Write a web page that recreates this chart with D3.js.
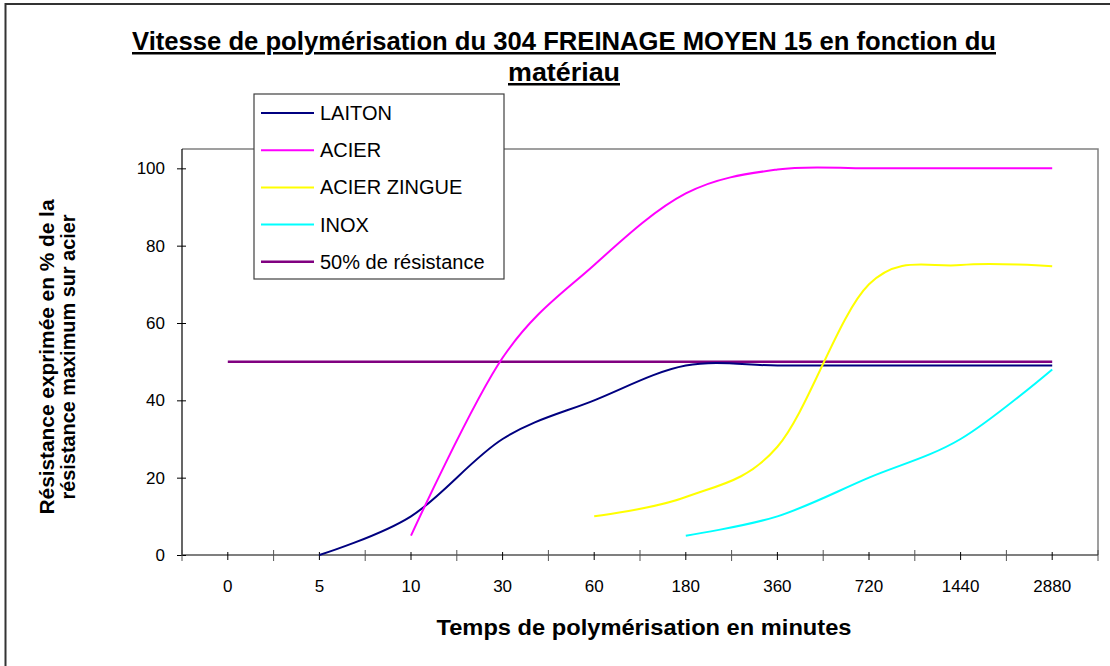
<!DOCTYPE html>
<html>
<head>
<meta charset="utf-8">
<script src="https://cdn.jsdelivr.net/npm/d3@7"></script>
<style>
  html, body { margin: 0; padding: 0; background: #fff; }
  svg { display: block; font-family: Arial, "Liberation Sans", sans-serif; }
</style>
</head>
<body>
<svg id="chart" width="1110" height="666"></svg>
<script>
// ---- data ----
const categories = ["0", "5", "10", "30", "60", "180", "360", "720", "1440", "2880"];
const laiton      = [null, 0, 10, 30, 40, 49, 49, 49, 49, 49];
const acier       = [null, null, 5, 51, 75, 93.5, 99.7, 100, 100, 100];
const acierZingue = [null, null, null, null, 10, 15, 28, 70, 75, 74.7];
const inox        = [null, null, null, null, null, 5, 10, 20, 30, 48];
const seuil       = [50, 50, 50, 50, 50, 50, 50, 50, 50, 50];
const yTicks = [0, 20, 40, 60, 80, 100];

const seriesNames  = ["LAITON", "ACIER", "ACIER ZINGUE", "INOX", "50% de résistance"];
const seriesValues = [laiton, acier, acierZingue, inox, seuil];
const seriesColors = ["#000080", "#FF00FF", "#FFFF00", "#00FFFF", "#800080"];

const title1 = "Vitesse de polymérisation du 304 FREINAGE MOYEN 15 en fonction du";
const title2 = "matériau";
const xTitle = "Temps de polymérisation en minutes";
const yTitle1 = "Résistance exprimée en % de la";
const yTitle2 = "résistance maximum sur acier";

// ---- layout ----
const svg = d3.select("#chart");
const plot = { left: 182, right: 1098, top: 149, bottom: 555 };

const x = d3.scaleBand().domain(categories).range([plot.left, plot.right]).paddingInner(0).paddingOuter(0);
const y = d3.scaleLinear().domain([0, 105]).range([plot.bottom, plot.top]);
const cx = c => x(c) + x.bandwidth() / 2;

// chart border
svg.append("rect").attr("x", 5.5).attr("y", 4).attr("width", 1120).attr("height", 680)
  .attr("fill", "none").attr("stroke", "#333").attr("stroke-width", 2);

// plot border (top/right in gray)
svg.append("path")
  .attr("d", `M${plot.left},${plot.top}H${plot.right}V${plot.bottom}`)
  .attr("fill", "none").attr("stroke", "#808080").attr("stroke-width", 1.5);

// title
const tg = svg.append("g").attr("font-weight", "bold").attr("font-size", 25).attr("fill", "#000");
[[title1, 50, 864], [title2, 81, 112]].forEach(([t, yy, w]) => {
  tg.append("text").attr("x", 564).attr("y", yy).attr("text-anchor", "middle")
    .attr("textLength", w).attr("lengthAdjust", "spacingAndGlyphs")
    .attr("text-decoration", "underline").text(t);
});

// y axis
const yAxis = d3.axisLeft(y).tickValues(yTicks).tickSize(6).tickPadding(5);
const yg = svg.append("g").attr("transform", `translate(${plot.left},0)`).call(yAxis);
yg.select(".domain").attr("d", `M0,${plot.bottom}V${plot.top}`).attr("stroke", "#000").attr("stroke-width", 1.2);
yg.selectAll(".tick line").attr("x1", 4).attr("x2", -5).attr("stroke", "#000");
yg.selectAll(".tick text").attr("font-size", 17).attr("fill", "#000").attr("x", -17)
  .attr("font-family", "Arial, 'Liberation Sans', sans-serif");

// x axis: band boundaries (major) + centers (minor)
const xg = svg.append("g");
xg.append("line").attr("x1", plot.left).attr("x2", plot.right).attr("y1", plot.bottom).attr("y2", plot.bottom)
  .attr("stroke", "#000").attr("stroke-width", 1.2);
const bounds = categories.map(c => x(c)).concat([x(categories[categories.length - 1]) + x.bandwidth()]);
xg.selectAll("line.maj").data(bounds).join("line").attr("class", "maj")
  .attr("x1", d => d).attr("x2", d => d).attr("y1", plot.bottom - 5).attr("y2", plot.bottom + 6)
  .attr("stroke", "#555").attr("stroke-width", 1);
xg.selectAll("line.min").data(categories).join("line").attr("class", "min")
  .attr("x1", d => cx(d)).attr("x2", d => cx(d)).attr("y1", plot.bottom - 3).attr("y2", plot.bottom + 5)
  .attr("stroke", "#000").attr("stroke-width", 1);
xg.selectAll("text").data(categories).join("text")
  .attr("x", d => cx(d)).attr("y", 592).attr("text-anchor", "middle")
  .attr("font-size", 17).attr("fill", "#000").text(d => d);

// axis titles
svg.append("text").attr("x", 644).attr("y", 635).attr("text-anchor", "middle")
  .attr("font-weight", "bold").attr("font-size", 22)
  .attr("textLength", 415).attr("lengthAdjust", "spacingAndGlyphs").text(xTitle);
[[yTitle1, 54, 315], [yTitle2, 75, 285]].forEach(([t, xx, w]) => {
  svg.append("text").attr("transform", `translate(${xx},357) rotate(-90)`)
    .attr("text-anchor", "middle").attr("font-weight", "bold").attr("font-size", 20)
    .attr("textLength", w).attr("lengthAdjust", "spacingAndGlyphs").text(t);
});

// lines
const line = d3.line()
  .defined(d => d.v !== null)
  .x(d => cx(d.c))
  .y(d => y(d.v))
  .curve(d3.curveCardinal.tension(0));

const order = [4, 0, 1, 2, 3];
order.forEach(i => {
  const data = categories.map((c, k) => ({ c, v: seriesValues[i][k] }));
  svg.append("path").datum(data)
    .attr("d", line)
    .attr("fill", "none")
    .attr("stroke", seriesColors[i])
    .attr("stroke-width", i === 4 ? 2.5 : 2)
    .attr("stroke-linejoin", "round");
});

// legend
const lg = svg.append("g");
lg.append("rect").attr("x", 254).attr("y", 94).attr("width", 250).attr("height", 185)
  .attr("fill", "#fff").attr("stroke", "#404040").attr("stroke-width", 1.2);
seriesNames.forEach((n, i) => {
  const yy = 113 + i * 37.2;
  lg.append("line").attr("x1", 261).attr("x2", 314).attr("y1", yy).attr("y2", yy)
    .attr("stroke", seriesColors[i]).attr("stroke-width", i === 4 ? 2.5 : 2);
  lg.append("text").attr("x", 320).attr("y", yy + 7).attr("font-size", 20).attr("fill", "#000").text(n);
});
</script>
</body>
</html>
